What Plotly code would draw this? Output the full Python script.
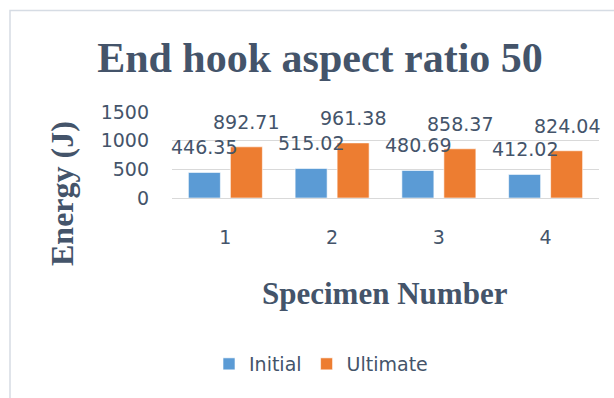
import plotly.graph_objects as go

# Data
specimens = [1, 2, 3, 4]
initial_energy = [446.35, 515.02, 480.69, 412.02]
ultimate_energy = [892.71, 961.38, 858.37, 824.04]
series_names = ["Initial", "Ultimate"]
y_ticks = [0, 500, 1000, 1500]

# Page geometry (pixels)
W, H = 614, 398
L, R, T, B = 172, 15, 112, 200
PW, PH = W - L - R, H - T - B

def paper_x(px):
    return (px - L) / PW

def paper_y(py):
    return (H - B - py) / PH

TEXT = "#44546A"
SANS = "DejaVu Sans"
SERIF = "Liberation Serif"
BLUE = "#5B9BD5"
ORANGE = "#ED7D31"

fig = go.Figure()
fig.add_trace(go.Bar(
    x=specimens, y=initial_energy, name=series_names[0],
    marker=dict(color=BLUE, line=dict(color="rgba(255,255,255,0.6)", width=1)),
))
fig.add_trace(go.Bar(
    x=specimens, y=ultimate_energy, name=series_names[1],
    marker=dict(color=ORANGE, line=dict(color="rgba(255,255,255,0.6)", width=1)),
))

# Value labels above each bar
annotations = []
for values, shift in ((initial_energy, -21), (ultimate_energy, 21)):
    for cat, v in zip(specimens, values):
        annotations.append(dict(
            x=cat, y=v, xref="x", yref="y", text=f"{v:.2f}",
            showarrow=False, xshift=shift, yshift=25,
            xanchor="center", yanchor="middle",
            font=dict(family=SANS, size=19, color=TEXT),
        ))

# Axis titles
annotations.append(dict(
    x=paper_x(385), y=paper_y(293), xref="paper", yref="paper",
    text="<b>Specimen Number</b>", showarrow=False,
    xanchor="center", yanchor="middle",
    font=dict(family=SERIF, size=31, color=TEXT),
))
annotations.append(dict(
    x=paper_x(62), y=paper_y(194), xref="paper", yref="paper",
    text="<b>Energy (J)</b>", showarrow=False, textangle=-90,
    xanchor="center", yanchor="middle",
    font=dict(family=SERIF, size=32, color=TEXT),
))

fig.update_layout(
    width=W, height=H,
    margin=dict(l=L, r=R, t=T, b=B, pad=0),
    paper_bgcolor="white", plot_bgcolor="white",
    barmode="group", bargap=0.213, bargroupgap=0.238,
    title=dict(
        text="<b>End hook aspect ratio 50</b>",
        x=320 / W, xref="container", xanchor="center",
        y=1 - 57 / H, yref="container", yanchor="middle",
        font=dict(family=SERIF, size=42, color=TEXT),
    ),
    xaxis=dict(
        type="linear", range=[0.5, 4.5], tickvals=specimens,
        showgrid=False, zeroline=False, showline=False,
        ticks="", ticklabelstandoff=26,
        tickfont=dict(family=SANS, size=19, color=TEXT),
    ),
    yaxis=dict(
        range=[0, 1500], tickvals=y_ticks, showgrid=True,
        gridcolor="#D9D9D9", gridwidth=1, zeroline=True,
        zerolinecolor="#D9D9D9", zerolinewidth=1, showline=False,
        ticks="", ticklabelstandoff=22,
        tickfont=dict(family=SANS, size=19, color=TEXT),
    ),
    legend=dict(
        orientation="h", x=paper_x(321), y=paper_y(364),
        xanchor="center", yanchor="middle",
        font=dict(family=SANS, size=19, color=TEXT),
        bgcolor="rgba(0,0,0,0)", itemwidth=30,
    ),
    annotations=annotations,
    shapes=[dict(
        type="rect", xref="paper", yref="paper",
        x0=paper_x(10), x1=paper_x(720), y0=paper_y(460), y1=paper_y(10.5),
        line=dict(color="#D6DCE4", width=1.5), fillcolor="rgba(0,0,0,0)",
        layer="below",
    )],
)

fig.write_html("out.html")
